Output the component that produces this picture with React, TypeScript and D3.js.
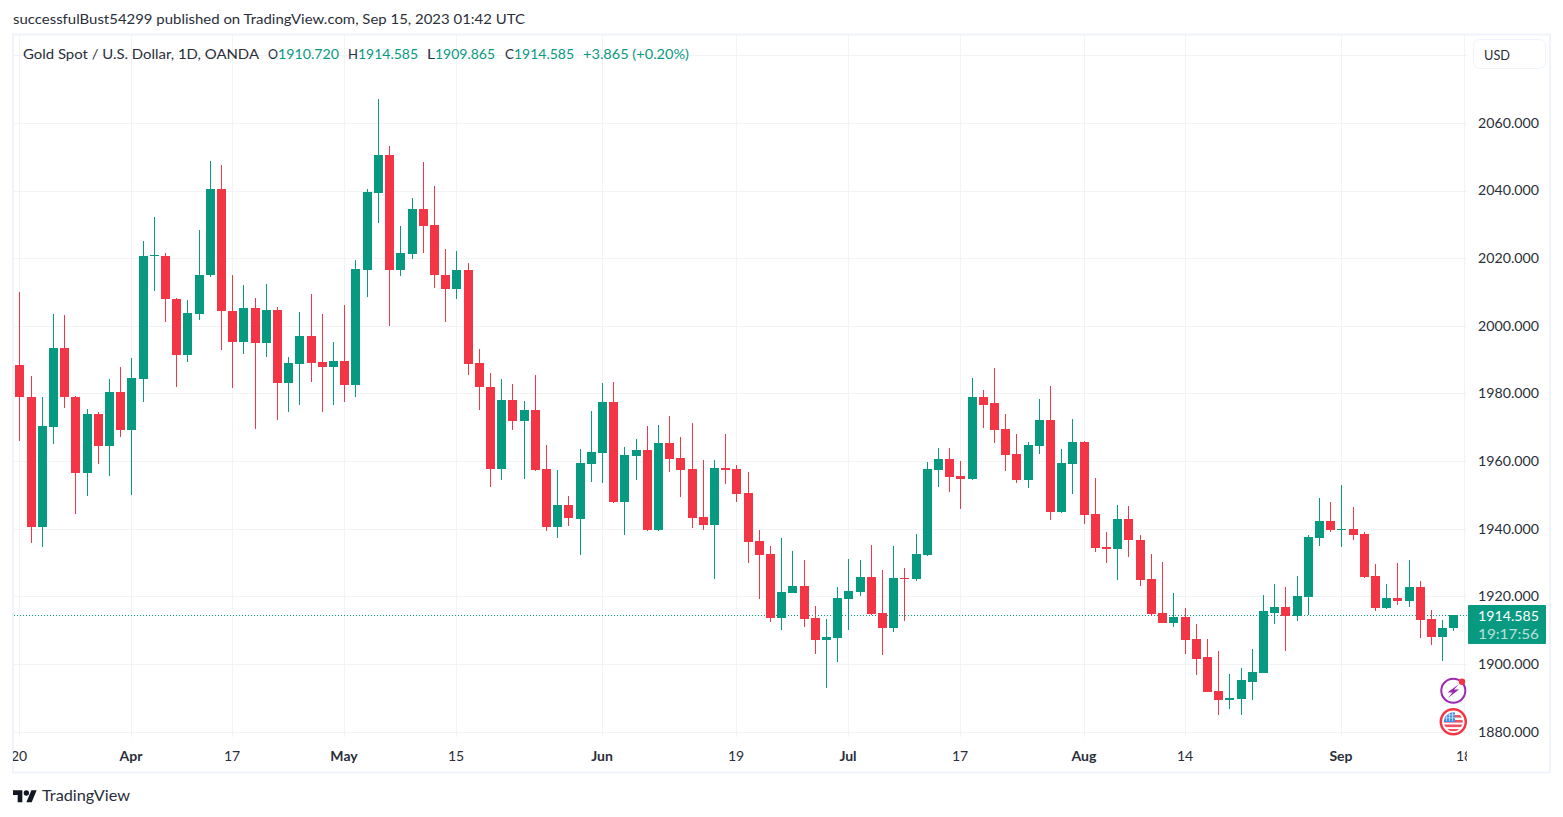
import { useEffect, useRef } from "react";
import * as d3 from "d3";

const opens = [
  1988.6, 1979.1, 1940.5, 1970.1, 1993.6, 1979.1, 1956.5, 1974.1, 1964.4, 1980.6,
  1969.2, 1984.4, 2020.7, 2020.8, 2008.1, 1991.3, 2003.7, 2015.0, 2040.6, 2004.5,
  1995.2, 2005.4, 1994.9, 2004.8, 1983.1, 1988.9, 1997.1, 1989.5, 1987.8, 1989.8,
  1982.5, 2016.7, 2039.4, 2050.6, 2016.7, 2021.4, 2034.7, 2030.0, 2015.2, 2011.0,
  2016.7, 1989.2, 1982.1, 1957.6, 1978.2, 1971.8, 1975.3, 1957.6, 1940.5, 1947.2,
  1942.9, 1959.1, 1962.4, 1977.4, 1947.9, 1961.5, 1963.3, 1939.6, 1965.3, 1960.9,
  1957.6, 1943.5, 1941.1, 1957.9, 1957.6, 1950.5, 1936.4, 1932.5, 1913.7, 1921.0,
  1923.1, 1913.6, 1907.1, 1907.7, 1919.2, 1921.3, 1925.7, 1915.1, 1910.7, 1925.4,
  1925.1, 1932.2, 1957.3, 1960.6, 1955.6, 1954.7, 1978.9, 1977.1, 1969.5, 1962.1,
  1954.4, 1964.4, 1972.1, 1944.9, 1959.1, 1965.6, 1944.4, 1934.8, 1934.2, 1942.8,
  1936.8, 1925.3, 1915.3, 1912.3, 1914.1, 1907.6, 1902.0, 1892.2, 1889.3, 1889.6,
  1894.9, 1897.5, 1915.3, 1917.0, 1914.4, 1920.0, 1937.4, 1942.5, 1939.8, 1940.1,
  1938.6, 1926.2, 1916.5, 1919.7, 1918.8, 1922.7, 1913.5, 1908.2, 1910.72,
];
const highs = [
  2010.2, 1985.3, 1979.1, 2003.7, 2003.4, 1979.2, 1975.6, 1974.7, 1984.4, 1988.0,
  1990.6, 2025.2, 2032.3, 2021.7, 2008.2, 2007.8, 2028.5, 2048.9, 2047.7, 2015.2,
  2012.2, 2008.4, 2012.5, 2005.7, 1990.9, 2004.2, 2009.6, 2003.7, 1995.4, 2006.3,
  2019.6, 2040.6, 2067.2, 2053.3, 2029.7, 2037.9, 2048.6, 2041.5, 2022.9, 2022.3,
  2018.7, 1993.3, 1986.2, 1984.4, 1983.0, 1977.9, 1985.6, 1964.9, 1957.5, 1949.8,
  1963.6, 1974.8, 1983.1, 1983.6, 1964.1, 1966.5, 1970.3, 1970.6, 1973.3, 1967.1,
  1971.2, 1960.3, 1960.3, 1968.0, 1958.8, 1956.8, 1939.6, 1934.9, 1937.2, 1933.4,
  1930.8, 1917.2, 1913.3, 1922.8, 1931.0, 1930.8, 1935.2, 1927.8, 1934.9, 1928.4,
  1938.4, 1959.7, 1963.8, 1963.8, 1960.0, 1984.5, 1981.0, 1987.5, 1973.9, 1968.0,
  1965.6, 1978.3, 1982.2, 1963.6, 1972.4, 1965.9, 1955.2, 1939.2, 1947.2, 1946.9,
  1938.3, 1932.7, 1930.3, 1921.2, 1916.5, 1912.0, 1907.6, 1903.8, 1897.0, 1899.0,
  1904.6, 1920.6, 1923.6, 1922.7, 1926.2, 1938.3, 1949.3, 1948.1, 1953.1, 1946.6,
  1939.2, 1929.5, 1923.8, 1930.0, 1930.9, 1924.7, 1915.9, 1913.2, 1914.585,
];
const lows = [
  1966.1, 1935.8, 1934.6, 1965.0, 1975.7, 1944.3, 1949.7, 1959.1, 1955.6, 1967.1,
  1950.0, 1977.4, 2010.5, 2001.1, 1981.9, 1989.3, 2001.7, 2014.4, 1992.8, 1981.6,
  1991.6, 1969.5, 1990.7, 1972.1, 1974.5, 1976.6, 1983.6, 1974.5, 1976.6, 1977.4,
  1978.9, 2008.5, 2030.6, 1999.9, 2014.7, 2019.9, 2021.7, 2011.3, 2001.3, 2008.1,
  1985.6, 1975.3, 1952.3, 1954.4, 1969.2, 1954.7, 1957.0, 1939.3, 1937.2, 1940.8,
  1932.2, 1953.8, 1953.5, 1947.6, 1938.1, 1954.4, 1939.5, 1939.5, 1956.8, 1949.4,
  1940.2, 1939.6, 1925.1, 1953.2, 1947.9, 1929.9, 1919.2, 1912.4, 1910.1, 1921.0,
  1911.0, 1903.0, 1892.9, 1900.6, 1910.1, 1920.1, 1914.7, 1902.7, 1909.5, 1912.7,
  1924.5, 1932.1, 1952.3, 1950.8, 1945.8, 1954.6, 1969.8, 1965.3, 1957.0, 1953.5,
  1952.0, 1962.1, 1942.6, 1944.8, 1950.3, 1941.4, 1933.2, 1929.8, 1925.0, 1931.8,
  1923.0, 1914.4, 1912.2, 1911.1, 1902.9, 1896.7, 1891.8, 1885.1, 1886.9, 1885.1,
  1889.3, 1897.4, 1912.0, 1904.0, 1912.9, 1914.7, 1935.1, 1939.2, 1934.8, 1936.8,
  1925.6, 1915.6, 1916.4, 1917.6, 1916.8, 1907.9, 1905.8, 1901.1, 1909.865,
];
const closes = [
  1978.9, 1940.5, 1970.3, 1993.6, 1978.9, 1956.5, 1974.1, 1964.4, 1980.6, 1969.2,
  1984.7, 2020.8, 2020.9, 2007.9, 1991.3, 2003.9, 2015.2, 2040.6, 2004.3, 1995.2,
  2005.4, 1994.9, 2004.8, 1983.1, 1989.2, 1997.1, 1989.2, 1987.8, 1989.8, 1982.5,
  2017.0, 2039.7, 2050.6, 2016.7, 2021.7, 2034.7, 2029.7, 2015.0, 2011.0, 2016.7,
  1988.9, 1981.9, 1957.6, 1978.2, 1971.8, 1975.3, 1957.3, 1940.5, 1947.2, 1943.1,
  1959.4, 1962.7, 1977.4, 1947.9, 1961.8, 1963.3, 1939.6, 1965.3, 1960.6, 1957.3,
  1943.2, 1941.1, 1957.9, 1957.3, 1950.3, 1936.1, 1932.2, 1913.7, 1921.3, 1923.1,
  1913.3, 1907.1, 1908.0, 1919.5, 1921.6, 1925.7, 1914.8, 1910.7, 1925.4, 1925.1,
  1932.5, 1957.6, 1960.6, 1955.3, 1954.7, 1978.9, 1976.8, 1969.2, 1961.8, 1954.4,
  1964.7, 1972.1, 1944.9, 1959.4, 1965.6, 1944.0, 1934.4, 1934.2, 1942.8, 1936.6,
  1925.0, 1915.0, 1912.3, 1914.1, 1907.3, 1901.7, 1891.9, 1889.3, 1889.9, 1895.2,
  1897.8, 1915.6, 1917.0, 1914.4, 1920.3, 1937.7, 1942.5, 1939.8, 1940.1, 1938.3,
  1925.9, 1916.5, 1919.7, 1918.8, 1922.7, 1913.2, 1908.2, 1910.8, 1914.585,
];

const priceTicks = [1880, 1900, 1920, 1940, 1960, 1980, 2000, 2020, 2040, 2060, 2080];
const timeTickIndex = [0, 10, 19, 29, 39, 52, 64, 74, 84, 95, 104, 118, 129];
const timeTickLabels = ["20", "Apr", "17", "May", "15", "Jun", "19", "Jul", "17", "Aug", "14", "Sep", "18"];
const monthLabels = ["Apr", "May", "Jun", "Jul", "Aug", "Sep"];
const lastPrice = 1914.585;

const headerText = "successfulBust54299 published on TradingView.com, Sep 15, 2023 01:42 UTC";
const legendParts = [
  { text: "Gold Spot / U.S. Dollar, 1D, OANDA", x: 23, w: 236, up: false },
  { text: "O", x: 268, w: 10, up: false },
  { text: "1910.720", x: 278, w: 61, up: true },
  { text: "H", x: 348, w: 10, up: false },
  { text: "1914.585", x: 358, w: 60, up: true },
  { text: "L", x: 427, w: 8, up: false },
  { text: "1909.865", x: 435, w: 60, up: true },
  { text: "C", x: 505, w: 9, up: false },
  { text: "1914.585", x: 514, w: 60, up: true },
  { text: "+3.865 (+0.20%)", x: 583, w: 106, up: true },
];

const GREEN = "#089981";
const RED = "#F23645";
const GRID = "#f2f3f5";
const FRAME = "#f0f3fa";
const TEXT = "#131722";
const AXIS_TEXT = "#2a2e39";
const FONT = "Lato, 'Open Sans', sans-serif";

export default function App() {
  const svgRef = useRef<SVGSVGElement | null>(null);
  const width = 1563;
  const height = 817;

  useEffect(() => {
    if (!svgRef.current) return;
    const svg = d3.select(svgRef.current);
    svg.selectAll("*").remove();

    const xScale = d3.scaleLinear().domain([0, 128]).range([19.9, 1453.88]);
    const yScale = d3.scaleLinear().domain([1880, 2060]).range([732.2, 123.4]);
    const px = (i: number) => (i === 129 ? 1464 : Math.floor(xScale(i)));
    const py = (v: number) => Math.round(yScale(v) - 0.3);

    const defs = svg.append("defs");
    defs.append("clipPath").attr("id", "time-clip")
      .append("rect").attr("x", 13).attr("y", 740).attr("width", 1454).attr("height", 30);
    defs.append("clipPath").attr("id", "flag-clip")
      .append("circle").attr("cx", 1453.3).attr("cy", 721.7).attr("r", 9.5);

    // frame
    svg.append("rect")
      .attr("x", 13).attr("y", 34.5)
      .attr("width", 1537).attr("height", 738)
      .attr("fill", "#fff").attr("stroke", FRAME).attr("stroke-width", 2);

    // grid
    svg.append("g").selectAll("rect")
      .data(priceTicks)
      .enter().append("rect")
      .attr("x", 14).attr("y", d => Math.floor(yScale(d)))
      .attr("width", 1453).attr("height", 1)
      .attr("fill", GRID);

    svg.append("g").selectAll("rect")
      .data(timeTickIndex)
      .enter().append("rect")
      .attr("x", d => px(d)).attr("y", 35)
      .attr("width", 1).attr("height", 702)
      .attr("fill", GRID);

    // last price line, under the candles
    svg.append("line")
      .attr("x1", 14).attr("x2", 1467)
      .attr("y1", Math.floor(yScale(lastPrice)) + 0.5).attr("y2", Math.floor(yScale(lastPrice)) + 0.5)
      .attr("stroke", GREEN).attr("stroke-width", 1).attr("stroke-dasharray", "1 2");

    // candles
    const candles = svg.append("g").attr("shape-rendering", "crispEdges");
    opens.forEach((open, i) => {
      const close = closes[i];
      const color = close >= open ? GREEN : RED;
      const top = py(Math.max(open, close));
      const bottom = py(Math.min(open, close));
      const wickTop = py(highs[i]);
      const wickBottom = py(lows[i]);
      candles.append("rect")
        .attr("x", px(i)).attr("y", wickTop)
        .attr("width", 1).attr("height", Math.max(1, wickBottom - wickTop))
        .attr("fill", color);
      candles.append("rect")
        .attr("x", px(i) - 4).attr("y", top)
        .attr("width", 9).attr("height", Math.max(1, bottom - top))
        .attr("fill", color);
    });

    // price axis
    svg.append("g").selectAll("text")
      .data(priceTicks.filter(d => d < 2080))
      .enter().append("text")
      .attr("x", 1539).attr("y", d => yScale(d) + 4.4)
      .attr("text-anchor", "end")
      .style("font-family", FONT).style("font-size", "14px")
      .attr("textLength", 61).attr("lengthAdjust", "spacingAndGlyphs")
      .style("fill", AXIS_TEXT)
      .text(d => d3.format(".3f")(d));

    // time axis
    svg.append("g").attr("clip-path", "url(#time-clip)").selectAll("text")
      .data(timeTickIndex)
      .enter().append("text")
      .attr("x", d => px(d)).attr("y", 761)
      .attr("text-anchor", "middle")
      .style("font-family", FONT).style("font-size", "14px")
      .style("font-weight", (_, i) => (monthLabels.includes(timeTickLabels[i]) ? "bold" : "normal"))
      .style("fill", AXIS_TEXT)
      .text((_, i) => timeTickLabels[i]);

    // price tag
    svg.append("rect")
      .attr("x", 1468).attr("y", 605).attr("width", 78).attr("height", 39)
      .attr("rx", 1).attr("fill", GREEN);
    svg.append("text")
      .attr("x", 1539).attr("y", 621)
      .attr("text-anchor", "end")
      .attr("textLength", 61).attr("lengthAdjust", "spacingAndGlyphs")
      .style("font-family", FONT).style("font-size", "14px").style("fill", "#fff")
      .text(d3.format(".3f")(lastPrice));
    svg.append("text")
      .attr("x", 1539).attr("y", 638.5)
      .attr("text-anchor", "end")
      .attr("textLength", 61).attr("lengthAdjust", "spacingAndGlyphs")
      .style("font-family", FONT).style("font-size", "14px").style("fill", "#fff").style("opacity", 0.7)
      .text("19:17:56");

    // currency button
    svg.append("rect")
      .attr("x", 1473.5).attr("y", 39.5).attr("width", 72).attr("height", 29)
      .attr("rx", 6).attr("fill", "#fff").attr("stroke", FRAME);
    svg.append("text")
      .attr("x", 1484).attr("y", 60)
      .attr("textLength", 26).attr("lengthAdjust", "spacingAndGlyphs")
      .style("font-family", FONT).style("font-size", "14px").style("fill", AXIS_TEXT)
      .text("USD");

    // header and legend
    svg.append("text")
      .attr("x", 13).attr("y", 24)
      .attr("textLength", 512).attr("lengthAdjust", "spacingAndGlyphs")
      .style("font-family", FONT).style("font-size", "14px").style("fill", AXIS_TEXT)
      .text(headerText);

    svg.append("g").selectAll("text")
      .data(legendParts)
      .enter().append("text")
      .attr("x", d => d.x).attr("y", 59)
      .attr("textLength", d => d.w).attr("lengthAdjust", "spacingAndGlyphs")
      .style("font-family", FONT).style("font-size", "14px")
      .style("fill", d => (d.up ? GREEN : AXIS_TEXT))
      .text(d => d.text);

    // news and flag icons
    const bolt = svg.append("g");
    bolt.append("circle")
      .attr("cx", 1453.3).attr("cy", 690.7).attr("r", 12)
      .attr("fill", "#fff").attr("stroke", "#9C27B0").attr("stroke-width", 2);
    bolt.append("path")
      .attr("d", "M1459 684L1447.5 692.5H1452.5L1448 698L1459 689.5H1454Z")
      .attr("fill", "#9C27B0");
    bolt.append("circle")
      .attr("cx", 1462).attr("cy", 681.7).attr("r", 3.2)
      .attr("fill", RED);

    const flag = svg.append("g");
    flag.append("circle")
      .attr("cx", 1453.3).attr("cy", 721.7).attr("r", 12.5)
      .attr("fill", "#fff").attr("stroke", RED).attr("stroke-width", 2.5);
    const flagInner = flag.append("g").attr("clip-path", "url(#flag-clip)");
    [715, 720, 724.5, 729].forEach(y => {
      flagInner.append("rect").attr("x", 1443).attr("y", y).attr("width", 21).attr("height", 2.6).attr("fill", "#F0525F");
    });
    flagInner.append("rect").attr("x", 1443).attr("y", 711).attr("width", 12).attr("height", 11).attr("fill", "#3F8FE8");
    [1446, 1449, 1452].forEach(x => {
      flagInner.append("rect").attr("x", x).attr("y", 712).attr("width", 0.8).attr("height", 9).attr("fill", "#cfe3fa");
    });
    [714.5, 717.5].forEach(y => {
      flagInner.append("rect").attr("x", 1443).attr("y", y).attr("width", 12).attr("height", 0.8).attr("fill", "#cfe3fa");
    });

    // logo
    const logo = svg.append("g").attr("transform", "translate(13,787.7) scale(0.667)").attr("fill", TEXT);
    logo.append("path").attr("d", "M14 22H7V11H0V4h14v18zM28 22h-8l7.5-18h8L28 22z");
    logo.append("circle").attr("cx", 20).attr("cy", 8).attr("r", 4);
    svg.append("text")
      .attr("x", 42).attr("y", 801)
      .attr("textLength", 88).attr("lengthAdjust", "spacingAndGlyphs")
      .style("font-family", FONT).style("font-size", "15px").style("fill", AXIS_TEXT)
      .text("TradingView");
  }, []);

  return (
    <svg
      ref={svgRef}
      width={width}
      height={height}
      style={{ position: "fixed", left: 0, top: 0, background: "#fff" }}
    />
  );
}
